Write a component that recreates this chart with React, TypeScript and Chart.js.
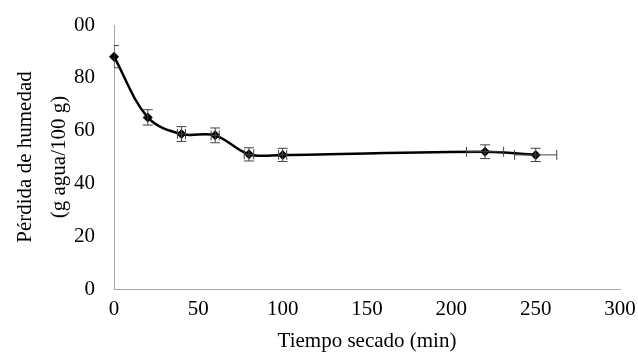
import React, { useEffect, useRef } from "react";
import { Chart, registerables } from "chart.js";

Chart.register(...registerables);

const times = [0, 20, 40, 60, 80, 100, 220, 250];
const humedad = [88, 65, 58.7, 58.2, 51, 50.8, 52, 50.8];
const yErr = [4.2, 2.9, 2.8, 2.8, 2.5, 2.5, 2.6, 2.5];
const xErr = [0, 0, 2.4, 2.4, 2.8, 2.4, 11, 12.5];
const xTicks = [0, 50, 100, 150, 200, 250, 300];
const yTicks = [0, 20, 40, 60, 80, 100];
const yTickLabels = ["0", "20", "40", "60", "80", "00"];

const FONT = "'Liberation Serif', 'Times New Roman', serif";

const errorBarPlugin = {
  id: "errorBars",
  afterDatasetsDraw(chart: any) {
    const { ctx, chartArea, scales } = chart;
    const xs = scales.x;
    const ys = scales.y;
    ctx.save();
    ctx.beginPath();
    ctx.rect(chartArea.left, chartArea.top - 20, chartArea.right - chartArea.left + 20, chartArea.bottom - chartArea.top + 20);
    ctx.clip();
    ctx.strokeStyle = "#444";
    ctx.lineWidth = 1;
    const cap = 5;
    times.forEach((t, i) => {
      const cx = xs.getPixelForValue(t);
      const cy = ys.getPixelForValue(humedad[i]);
      const top = ys.getPixelForValue(humedad[i] + yErr[i]);
      const bot = ys.getPixelForValue(humedad[i] - yErr[i]);
      ctx.beginPath();
      ctx.moveTo(cx, top);
      ctx.lineTo(cx, bot);
      ctx.moveTo(cx - cap, top);
      ctx.lineTo(cx + cap, top);
      ctx.moveTo(cx - cap, bot);
      ctx.lineTo(cx + cap, bot);
      if (xErr[i] > 0) {
        const l = xs.getPixelForValue(t - xErr[i]);
        const r = xs.getPixelForValue(t + xErr[i]);
        ctx.moveTo(l, cy);
        ctx.lineTo(r, cy);
        ctx.moveTo(l, cy - cap);
        ctx.lineTo(l, cy + cap);
        ctx.moveTo(r, cy - cap);
        ctx.lineTo(r, cy + cap);
      }
      ctx.stroke();
    });
    ctx.restore();
  },
};

export default function App() {
  const ref = useRef<HTMLCanvasElement | null>(null);
  useEffect(() => {
    document.body.style.margin = "0";
    const chart = new Chart(ref.current as HTMLCanvasElement, {
      type: "line",
      data: {
        datasets: [
          {
            data: times.map((t, i) => ({ x: t, y: humedad[i] })),
            borderColor: "#000",
            backgroundColor: "#000",
            borderWidth: 2.5,
            tension: 0.35,
            pointStyle: "rectRot",
            pointRadius: 5,
            pointBorderWidth: 0,
            clip: false,
          },
        ],
      },
      options: {
        responsive: false,
        animation: false,
        layout: { padding: { top: 25, right: 18, left: 0, bottom: 0 } },
        plugins: { legend: { display: false }, tooltip: { enabled: false } },
        scales: {
          x: {
            type: "linear",
            min: 0,
            max: 300,
            afterBuildTicks(scale: any) {
              scale.ticks = xTicks.map((v) => ({ value: v }));
            },
            afterFit(scale: any) {
              scale.height = 65;
              scale.paddingLeft = 0;
              scale.paddingRight = 0;
            },
            grid: { display: false, drawTicks: false },
            border: { color: "#a6a6a6", width: 1 },
            ticks: {
              color: "#000",
              padding: 8,
              maxRotation: 0,
              font: { family: FONT, size: 21 },
            },
            title: {
              display: true,
              text: "Tiempo secado (min)",
              color: "#000",
              font: { family: FONT, size: 21 },
              padding: { top: 0, bottom: 0 },
            },
          },
          y: {
            type: "linear",
            min: 0,
            max: 100,
            afterBuildTicks(scale: any) {
              scale.ticks = yTicks.map((v) => ({ value: v }));
            },
            afterFit(scale: any) {
              scale.width = 114;
              scale.paddingTop = 0;
              scale.paddingBottom = 0;
            },
            grid: { display: false, drawTicks: false },
            border: { color: "#a6a6a6", width: 1 },
            ticks: {
              color: "#000",
              padding: 19,
              font: { family: FONT, size: 21 },
              callback: (v: any) => {
                const idx = yTicks.indexOf(Number(v));
                return idx >= 0 ? yTickLabels[idx] : "";
              },
            },
            title: {
              display: true,
              text: ["Pérdida de humedad", "(g agua/100 g)"],
              color: "#000",
              font: { family: FONT, size: 21, lineHeight: 1.65 },
              padding: { top: 8, bottom: 0 },
            },
          },
        },
      },
      plugins: [errorBarPlugin],
    });
    return () => chart.destroy();
  }, []);
  return (
    <div style={{ width: 638, height: 354 }}>
      <canvas ref={ref} width={638} height={354} style={{ display: "block" }} />
    </div>
  );
}
